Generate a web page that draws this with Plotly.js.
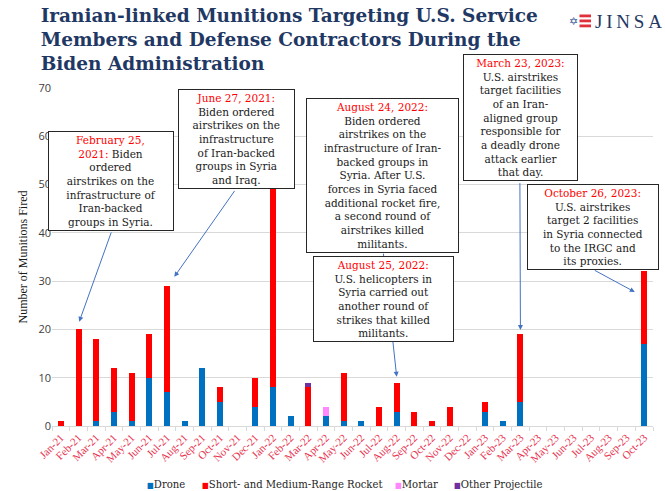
<!DOCTYPE html>
<html>
<head>
<meta charset="utf-8">
<script src="https://cdn.plot.ly/plotly-3.0.1.min.js"></script>
<style>html,body{margin:0;padding:0;background:#fff;}#chart{width:665px;height:491px;}</style>
</head>
<body>
<div id="chart"></div>
<script>
// ---------- data ----------
const months = ['Jan-21','Feb-21','Mar-21','Apr-21','May-21','Jun-21','Jul-21','Aug-21','Sep-21','Oct-21','Nov-21','Dec-21',
                'Jan-22','Feb-22','Mar-22','Apr-22','May-22','Jun-22','Jul-22','Aug-22','Sep-22','Oct-22','Nov-22','Dec-22',
                'Jan-23','Feb-23','Mar-23','Apr-23','May-23','Jun-23','Jul-23','Aug-23','Sep-23','Oct-23'];
const drone  = [0,0,1,3,1,10,7,1,12,5,0,4, 8,2,0,2,1,1,0,3,0,0,0,0, 3,1,5,0,0,0,0,0,0,17];
const rocket = [1,20,17,9,10,9,22,0,0,3,0,6, 41,0,8,0,10,0,4,6,3,1,4,0, 2,0,14,0,0,0,0,0,0,15];
const mortar = [0,0,0,0,0,0,0,0,0,0,0,0, 0,0,0,2,0,0,0,0,0,0,0,0, 0,0,0,0,0,0,0,0,0,0];
const otherP = [0,0,0,0,0,0,0,0,0,0,0,0, 0,0,1,0,0,0,0,0,0,0,0,0, 0,0,0,0,0,0,0,0,0,0];
const seriesNames = ['Drone','Short- and Medium-Range Rocket','Mortar','Other Projectile'];
const yTicks = [0,10,20,30,40,50,60,70];

const titleText = 'Iranian-linked Munitions Targeting U.S. Service<br>Members and Defense Contractors During the<br>Biden Administration';

// callout boxes: text lines (date in red)
const R = s => '<span style="color:#FF0000">' + s + '</span>';
const calloutLines = [
  [R('February 25,'), R('2021:') + ' Biden', 'ordered', 'airstrikes on the', 'infrastructure of', 'Iran-backed', 'groups in Syria.'],
  [R('June 27, 2021:'), 'Biden ordered', 'airstrikes on the', 'infrastructure', 'of Iran-backed', 'groups in Syria', 'and Iraq.'],
  [R('August 24, 2022:'), 'Biden ordered', 'airstrikes on the', 'infrastructure of Iran-', 'backed groups in', 'Syria. After U.S.', 'forces in Syria faced', 'additional rocket fire,', 'a second round of', 'airstrikes killed', 'militants.'],
  [R('August 25, 2022:'), 'U.S. helicopters in', 'Syria carried out', 'another round of', 'strikes that killed', 'militants.'],
  [R('March 23, 2023:'), 'U.S. airstrikes', 'target facilities', 'of an Iran-', 'aligned group', 'responsible for', 'a deadly drone', 'attack earlier', 'that day.'],
  [R('October 26, 2023:'), 'U.S. airstrikes', 'target 2 facilities', 'in Syria connected', 'to the IRGC and', 'its proxies.']
];
// arrow targets and tails: (category index, value)
const arrowTip  = [[1.04,21.6],[6.42,30.9],[19.0,10.2],[26.0,19.9],[32.47,27.75]];
const arrowTail = [[2.88,40.4],[9.89,49.0],[18.24,36.0],[25.97,50.6],[30.12,32.4]];

// ---------- layout geometry (pixels) ----------
const W = 665, H = 491;
const M = {l:52, r:12, t:88, b:65};
const PW = W - M.l - M.r, PH = H - M.t - M.b;
const px = x => (x - M.l) / PW;
const py = y => (H - M.b - y) / PH;
// boxes: left, top, width
const boxes = [
  [48.3,131,126],
  [177.7,89.3,116.6],
  [306,98.3,153.3],
  [313.3,256,140.7],
  [463.3,54,115],
  [526.7,184,131.6]
];
const boxFont = {family:'"DejaVu Serif", serif', size:10.5, color:'#1a1a1a'};

const colors = ['#0070C0','#FF0000','#FF88FF','#7030A0'];
const vals = [drone, rocket, mortar, otherP];
const traces = vals.map((v,i) => ({
  type:'bar', x: months, y: v, name: seriesNames[i],
  marker:{color: colors[i], line:{width:0}},
  hovertemplate: '%{x}: %{y}<extra>' + seriesNames[i] + '</extra>'
}));

const annotations = [];
// arrows first (so boxes cover them)
arrowTip.forEach((t,i) => {
  annotations.push({
    x: t[0], y: t[1], xref:'x', yref:'y',
    ax: arrowTail[i][0], ay: arrowTail[i][1], axref:'x', ayref:'y',
    text:'', showarrow:true, arrowhead:2, arrowsize:1, arrowwidth:1, arrowcolor:'#4472C4', standoff:0
  });
});
// callout boxes
boxes.forEach((b,i) => {
  annotations.push({
    xref:'paper', yref:'paper', x: px(b[0]), y: py(b[1]), xanchor:'left', yanchor:'top',
    width: b[2]-6, text: calloutLines[i].join('<br>'), align:'center', showarrow:false,
    bgcolor:'#FFFFFF', bordercolor:'#262626', borderwidth:1, borderpad:2, font: boxFont
  });
});
// legend (compact, Excel style)
const legendX = [145, 200, 393, 451.7];
seriesNames.forEach((n,i) => {
  annotations.push({
    xref:'paper', yref:'paper', x: px(legendX[i]), y: py(484.5), xanchor:'left', yanchor:'middle',
    text: '<span style="color:' + colors[i] + ';font-size:8px">■</span>' + n,
    showarrow:false, font:{family:'"DejaVu Serif Condensed", "DejaVu Serif", serif', size:11.2, color:'#262626'}
  });
});
// JINSA logo
annotations.push({xref:'paper', yref:'paper', x: px(593), y: py(21.5), xanchor:'left', yanchor:'middle',
  text:'J&#8201;I&#8201;N&#8201;S&#8201;A', showarrow:false, font:{family:'"Liberation Serif", serif', size:19, color:'#1F3864'}});
annotations.push({xref:'paper', yref:'paper', x: px(573.5), y: py(21.5), xanchor:'center', yanchor:'middle',
  text:'✡', showarrow:false, font:{family:'"DejaVu Sans", sans-serif', size:11, color:'#2F5597'}});

const shapes = [];
[14.5, 19.5, 24.5].forEach(y0 => {
  shapes.push({type:'rect', xref:'paper', yref:'paper', x0: px(579.5), x1: px(591), y0: py(y0+2.8), y1: py(y0),
    fillcolor:'#E0303A', line:{width:0}});
});

const layout = {
  width: W, height: H,
  margin: M,
  paper_bgcolor:'#FFFFFF', plot_bgcolor:'#FFFFFF',
  barmode:'stack', bargap:0.66,
  showlegend:false,
  title:{
    text: titleText, xref:'container', yref:'container', x: 40.7/W, xanchor:'left',
    y: 1 - 22/H, yanchor:'top',
    font:{family:'"DejaVu Serif", serif', size:18.5, color:'#1F3864', weight:'bold'}
  },
  xaxis:{
    type:'category', tickangle:-45, tickson:'boundaries', ticks:'outside', ticklen:4, tickcolor:'#D9D9D9',
    showline:true, linecolor:'#D9D9D9', linewidth:1, showgrid:false,
    tickfont:{family:'"Liberation Serif", serif', size:11, color:'#E8334F'}, automargin:false
  },
  yaxis:{
    range:[0,70], tickvals: yTicks, showgrid:true, gridcolor:'#D9D9D9', gridwidth:1, zeroline:false,
    tickfont:{family:'"Open Sans", sans-serif', size:11, color:'#404040'}, ticks:'', automargin:false,
    title:{text:'Number of Munitions Fired', standoff:8, font:{family:'"Liberation Serif", serif', size:12, color:'#1a1a1a'}}
  },
  annotations, shapes
};

Plotly.newPlot('chart', traces, layout, {displayModeBar:false, staticPlot:true});
</script>
</body>
</html>
